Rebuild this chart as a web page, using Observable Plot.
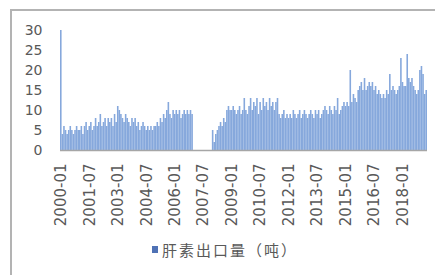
<!DOCTYPE html>
<html>
<head>
<meta charset="utf-8">
<script src="https://cdn.jsdelivr.net/npm/d3@7"></script>
<script src="https://cdn.jsdelivr.net/npm/@observablehq/plot@0.6"></script>
<style>
  html, body { margin: 0; padding: 0; background: #fff; }
  #wrap { position: relative; width: 435px; height: 275px; overflow: hidden; }
  #frame { position: absolute; left: 10px; top: 9px; right: 0; bottom: 0;
           border-top: 2px solid #b3b3b3; border-left: 2px solid #b3b3b3; }
  #chart { position: absolute; left: 0; top: 0; }
  #legend { position: absolute; left: 152px; top: 239px; font-family: "Noto Sans CJK SC", sans-serif;
            font-size: 15px; letter-spacing: 2px; color: #595959; display: flex; align-items: center; }
  #legend .sw { width: 6px; height: 7px; background: #4f72b5; margin-right: 4px; }
</style>
</head>
<body>
<div id="wrap">
  <div id="frame"></div>
  <div id="chart"></div>
  <div id="legend"><span class="sw"></span><span>肝素出口量（吨）</span></div>
</div>
<script>
// Monthly heparin export volume (tonnes), 2000-01 .. 2019-04
const startYear = 2000;
const values2000 = [30, 4, 6, 5, 4, 5, 6, 5, 4, 5, 6, 5];
const values2001 = [5, 6, 4, 6, 7, 5, 6, 7, 5, 6, 8, 6];
const values2002 = [7, 9, 6, 7, 8, 6, 8, 7, 8, 6, 9, 7];
const values2003 = [11, 10, 9, 8, 7, 9, 8, 7, 6, 8, 7, 8];
const values2004 = [6, 7, 5, 6, 7, 6, 5, 6, 5, 6, 5, 6];
const values2005 = [6, 7, 6, 8, 7, 9, 8, 10, 12, 9, 8, 10];
const values2006 = [9, 10, 9, 10, 8, 9, 10, 9, 10, 9, 10, 9];
const values2007 = [0, 0, 0, 0, 0, 0, 0, 0, 0, 0, 0, 0];
const values2008 = [5, 2, 4, 5, 6, 7, 6, 8, 7, 10, 11, 10];
const values2009 = [10, 11, 10, 9, 10, 11, 9, 10, 13, 10, 9, 11];
const values2010 = [13, 10, 12, 11, 13, 9, 12, 10, 13, 11, 12, 10];
const values2011 = [13, 11, 12, 10, 12, 13, 9, 8, 9, 10, 8, 9];
const values2012 = [8, 9, 8, 10, 9, 8, 9, 10, 8, 9, 10, 9];
const values2013 = [8, 9, 10, 9, 8, 10, 9, 10, 8, 9, 10, 11];
const values2014 = [10, 9, 11, 10, 9, 11, 10, 13, 9, 10, 11, 12];
const values2015 = [11, 12, 11, 20, 12, 14, 13, 12, 15, 16, 17, 15];
const values2016 = [18, 15, 16, 17, 16, 17, 15, 16, 14, 15, 14, 13];
const values2017 = [14, 13, 15, 14, 19, 15, 16, 15, 14, 15, 16, 23];
const values2018 = [17, 16, 16, 24, 18, 17, 18, 16, 15, 14, 15, 20];
const values2019 = [21, 19, 14, 15];

const tickLabels = ["2000-01","2001-07","2003-01","2004-07","2006-01","2007-07","2009-01",
                    "2010-07","2012-01","2013-07","2015-01","2016-07","2018-01"];
const yTicks = [0, 5, 10, 15, 20, 25, 30];
const seriesName = "肝素出口量（吨）";

const yearly = [values2000, values2001, values2002, values2003, values2004, values2005,
  values2006, values2007, values2008, values2009, values2010, values2011, values2012,
  values2013, values2014, values2015, values2016, values2017, values2018, values2019];

const data = [];
yearly.forEach((arr, i) => {
  arr.forEach((v, j) => {
    data.push({month: `${startYear + i}-${String(j + 1).padStart(2, "0")}`, value: v});
  });
});
const months = data.map(d => d.month);

const chart = Plot.plot({
  width: 435,
  height: 232,
  marginLeft: 60,
  marginRight: 8,
  marginTop: 30,
  marginBottom: 82,
  style: {fontFamily: "DejaVu Sans", fontSize: "14px", color: "#595959", background: "transparent"},
  x: {type: "band", domain: months, padding: 0, axis: null},
  y: {domain: [0, 30], axis: null},
  marks: [
    Plot.barY(data, {x: "month", y: "value", fill: "#86a8dc", inset: 0}),
    Plot.ruleY([0], {stroke: "#a6a6a6", strokeWidth: 1.5}),
    Plot.axisY(yTicks, {tickSize: 0, tickPadding: 18, label: null, fill: "#595959"}),
    Plot.axisX(tickLabels, {tickSize: 0, tickPadding: 13, tickRotate: -90, label: null, fill: "#595959", fontSize: 15})
  ]
});
document.getElementById("chart").appendChild(chart);
</script>
</body>
</html>
